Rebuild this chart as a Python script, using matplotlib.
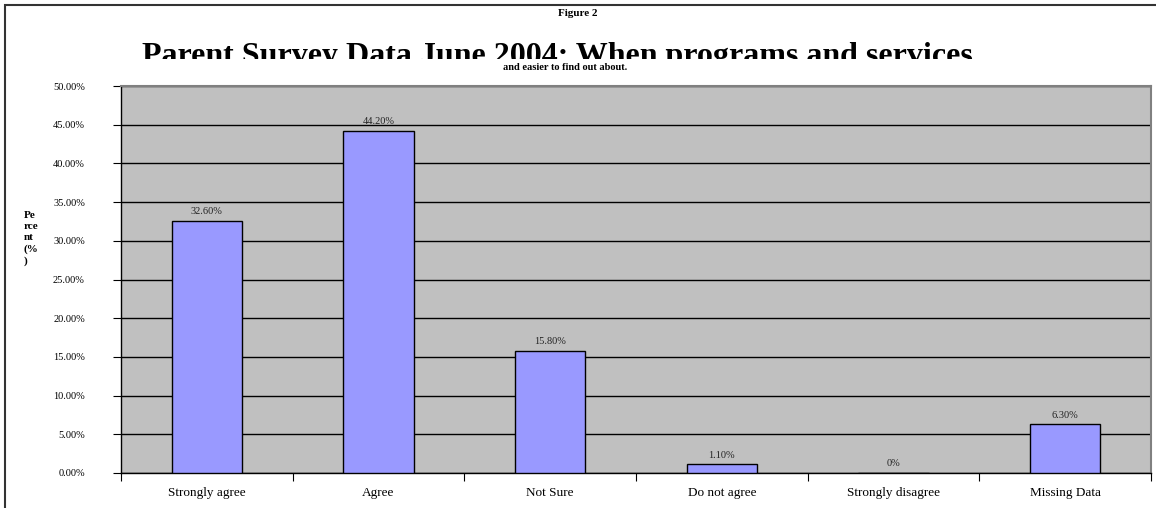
import matplotlib.pyplot as plt
from matplotlib.patches import Rectangle
import numpy as np

categories = ["Strongly agree", "Agree", "Not Sure", "Do not agree", "Strongly disagree", "Missing Data"]
percent = [32.6, 44.2, 15.8, 1.1, 0.0, 6.3]
bar_labels = ["32.60%", "44.20%", "15.80%", "1.10%", "0%", "6.30%"]

plt.rcParams['font.family'] = ['Liberation Serif', 'DejaVu Serif']

W, H = 1156, 508
fig = plt.figure(figsize=(W / 100, H / 100), dpi=100)
ax = fig.add_axes([121 / W, 1 - 473 / H, (1151 - 121) / W, (473 - 86) / H])
ax.set_facecolor('#C0C0C0')

x = np.arange(len(categories))
ax.bar(x, percent, width=0.41, color='#9999FF', edgecolor='black', linewidth=1, zorder=3)
for xi, v, lab in zip(x, percent, bar_labels):
    ax.text(xi, v + 0.6, lab, ha='center', va='bottom', fontsize=7.5, color='#222222', zorder=4)

ax.set_xlim(-0.5, len(categories) - 0.5)
ax.set_ylim(0, 50)
ax.set_yticks(np.arange(0, 51, 5))
ax.set_yticklabels(["%.2f%%" % t for t in np.arange(0, 51, 5)], fontsize=7.5)
ax.yaxis.grid(True, color='black', linewidth=1, zorder=1)
ax.set_axisbelow(True)
ax.tick_params(axis='y', direction='out', length=6, pad=20, color='black')

# category labels sit between tick marks placed at the boundaries
ax.set_xticks(np.arange(-0.5, len(categories), 1))
ax.set_xticklabels([])
ax.set_xticks(x, minor=True)
ax.set_xticklabels(categories, minor=True, fontsize=9.5)
ax.tick_params(axis='x', which='major', direction='out', length=6, color='black')
ax.tick_params(axis='x', which='minor', length=0, pad=10)

for s in ['top', 'right']:
    ax.spines[s].set_color('#808080')
    ax.spines[s].set_linewidth(1.5)
for s in ['left', 'bottom']:
    ax.spines[s].set_color('black')
    ax.spines[s].set_linewidth(1)

fig.text(24 / W, 1 - 211 / H, "Pe\nrce\nnt\n(%\n)", fontsize=8,
         fontweight='bold', ha='left', va='top', linespacing=1.3)

fig.text(578 / W, 1 - 13 / H, "Figure 2", ha='center', va='center', fontsize=8, fontweight='bold')
fig.text(557 / W, 1 - 64 / H, "Parent Survey Data June 2004: When programs and services",
         ha='center', va='baseline', fontsize=23, fontweight='bold', zorder=2)
# the long title is cut off at the bottom, as in the source
fig.add_artist(Rectangle((130 / W, 1 - 78 / H), 860 / W, 19 / H, transform=fig.transFigure,
                         facecolor='white', edgecolor='none', zorder=3))
fig.text(565 / W, 1 - 67 / H, "and easier to find out about.", ha='center', va='center',
         fontsize=7.5, fontweight='bold', zorder=4)

# outer frame (cut at the right and bottom edges)
fig.add_artist(Rectangle((5 / W, -0.1), 1.2, 1 - 5 / H + 0.1, transform=fig.transFigure,
                         fill=False, edgecolor='#333333', linewidth=1.5, zorder=5))

fig.savefig('out.png', dpi=100)
